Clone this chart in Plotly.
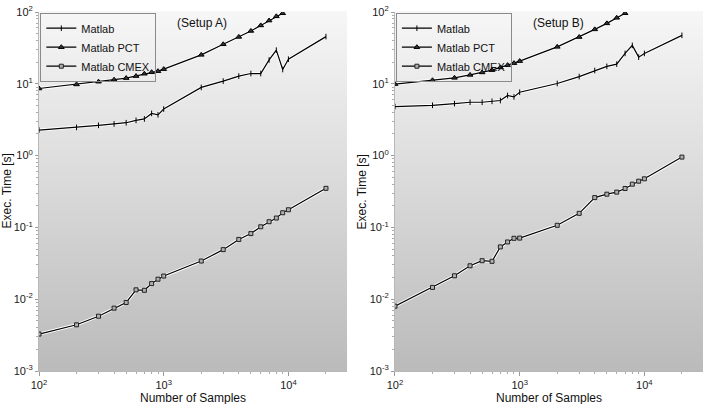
import plotly.graph_objects as go
from plotly.subplots import make_subplots

samples = [100, 200, 300, 400, 500, 600, 700, 800, 900, 1000,
           2000, 3000, 4000, 5000, 6000, 7000, 8000, 9000, 10000, 20000]

# Setup A
a_matlab = [2.27, 2.47, 2.64, 2.76, 2.87, 3.09, 3.24, 3.87, 3.70, 4.45,
            8.9, 10.9, 12.8, 13.9, 13.9, 21.5, 29.4, 15.8, 22.0, 45.4]
a_pct = [8.6, 9.8, 10.7, 11.4, 12.0, 12.8, 13.8, 14.5, 15.0, 16.0,
         25.3, 35.5, 45.0, 54.5, 65.0, 76.0, 87.0, 96.0]
a_cmex = [0.00327, 0.0044, 0.0058, 0.0075, 0.009, 0.0135, 0.0133, 0.0165, 0.019, 0.021,
          0.034, 0.049, 0.068, 0.082, 0.102, 0.12, 0.135, 0.16, 0.176, 0.35]

# Setup B
b_matlab = [4.82, 5.02, 5.3, 5.53, 5.53, 5.7, 5.85, 6.87, 6.57, 7.63,
            10.1, 12.6, 15.3, 17.5, 18.8, 26.5, 34.3, 23.5, 26.5, 47.3]
b_pct = [9.9, 11.2, 12.1, 13.3, 14.4, 15.5, 16.9, 18.2, 19.4, 20.7,
         32.7, 44.8, 57.3, 69.5, 83.0, 96.0]
b_cmex = [0.008, 0.0146, 0.0212, 0.0292, 0.0344, 0.0337, 0.0535, 0.0627, 0.0705, 0.071,
          0.107, 0.157, 0.26, 0.29, 0.31, 0.348, 0.40, 0.44, 0.475, 0.953]

panel_titles = ["(Setup A)", "(Setup B)"]
series_names = ["Matlab", "Matlab PCT", "Matlab CMEX"]

x_tickvals = [100, 1000, 10000]
x_ticktext = ["10<sup>2</sup>", "10<sup>3</sup>", "10<sup>4</sup>"]
y_tickvals = [0.001, 0.01, 0.1, 1, 10, 100]
y_ticktext = ["10<sup>-3</sup>", "10<sup>-2</sup>", "10<sup>-1</sup>",
              "10<sup>0</sup>", "10<sup>1</sup>", "10<sup>2</sup>"]

FONT = "Liberation Sans, Arial, sans-serif"

fig = make_subplots(rows=1, cols=2, horizontal_spacing=0.0722)
fig.update_xaxes(domain=[0, 0.4639], row=1, col=1)
fig.update_xaxes(domain=[0.5361, 1], row=1, col=2)

markers = [
    dict(symbol="line-ns-open", size=4, line=dict(color="black", width=1)),
    dict(symbol="triangle-up", size=5, color="#333333", line=dict(color="black", width=1)),
    dict(symbol="square", size=4, color="#b0b0b0", line=dict(color="#222222", width=1)),
]

panels = [(a_matlab, a_pct, a_cmex), (b_matlab, b_pct, b_cmex)]
for col, data in enumerate(panels, start=1):
    leg = "legend" if col == 1 else "legend2"
    # white halo under each line
    for ys in data:
        fig.add_trace(go.Scatter(x=samples[:len(ys)], y=ys, mode="lines",
                                 line=dict(color="white", width=3),
                                 showlegend=False, hoverinfo="skip"), row=1, col=col)
    for name, ys, mk in zip(series_names, data, markers):
        fig.add_trace(go.Scatter(x=samples[:len(ys)], y=ys, mode="lines+markers", name=name,
                                 line=dict(color="black", width=1.2), marker=mk,
                                 legend=leg), row=1, col=col)

# gray gradient background
n = 60
top, bottom = 247, 186
for col in (1, 2):
    xr = "x domain" if col == 1 else "x2 domain"
    yr = "y domain" if col == 1 else "y2 domain"
    for i in range(n):
        g = round(top + (bottom - top) * (i + 0.5) / n)
        fig.add_shape(type="rect", xref=xr, yref=yr, x0=0, x1=1,
                      y0=1 - (i + 1) / n, y1=1 - i / n + 0.002,
                      fillcolor=f"rgb({g},{g},{g})", line_width=0, layer="below")

axis_font = dict(family=FONT, size=11, color="#1a1a1a")
fig.update_xaxes(type="log", range=[2, 4.47], tickvals=x_tickvals, ticktext=x_ticktext,
                 showgrid=False, zeroline=False, showline=True, linecolor="#b8b8b8",
                 ticks="outside", ticklen=4, tickcolor="#999999", tickfont=axis_font,
                 minor=dict(ticks="outside", ticklen=2, tickcolor="#aaaaaa", dtick="D1"),
                 automargin=False)
fig.update_yaxes(type="log", range=[-3, 2], tickvals=y_tickvals, ticktext=y_ticktext,
                 showgrid=False, zeroline=False, showline=True, linecolor="#b8b8b8",
                 ticks="outside", ticklen=3, tickcolor="#999999", tickfont=axis_font,
                 minor=dict(ticks="outside", ticklen=2, tickcolor="#aaaaaa", dtick="D1"),
                 automargin=False)

for i, t in enumerate(panel_titles):
    xd = "x domain" if i == 0 else "x2 domain"
    yd = "y domain" if i == 0 else "y2 domain"
    fig.add_annotation(text=t, xref=xd, yref=yd, x=0.53, y=1, yshift=-2,
                       showarrow=False, yanchor="top",
                       font=dict(family=FONT, size=12, color="#111111"))
    fig.add_annotation(text="Number of Samples", xref=xd, yref=yd, x=0.5, y=0, yshift=-18,
                       showarrow=False, yanchor="top",
                       font=dict(family=FONT, size=12, color="#111111"))
    fig.add_annotation(text="Exec. Time [s]", xref=xd, yref=yd, x=0, y=0.5, xshift=-33,
                       xanchor="center", yanchor="middle",
                       showarrow=False, textangle=-90,
                       font=dict(family=FONT, size=12, color="#111111"))

leg_style = dict(bgcolor="rgba(0,0,0,0)", bordercolor="#8a8a8a", borderwidth=1,
                 font=dict(family=FONT, size=11, color="#111111"),
                 xanchor="left", yanchor="top", tracegroupgap=0, itemwidth=30)
fig.update_layout(
    width=706, height=404,
    margin=dict(l=39, r=3, t=12, b=33),
    paper_bgcolor="white", plot_bgcolor="white",
    legend=dict(x=0.002, y=0.998, **leg_style),
    legend2=dict(x=0.5375, y=0.998, **leg_style),
    font=dict(family=FONT),
)

fig.write_html("out.html", config={"displayModeBar": False},
               post_script="document.body.style.margin='0';")
